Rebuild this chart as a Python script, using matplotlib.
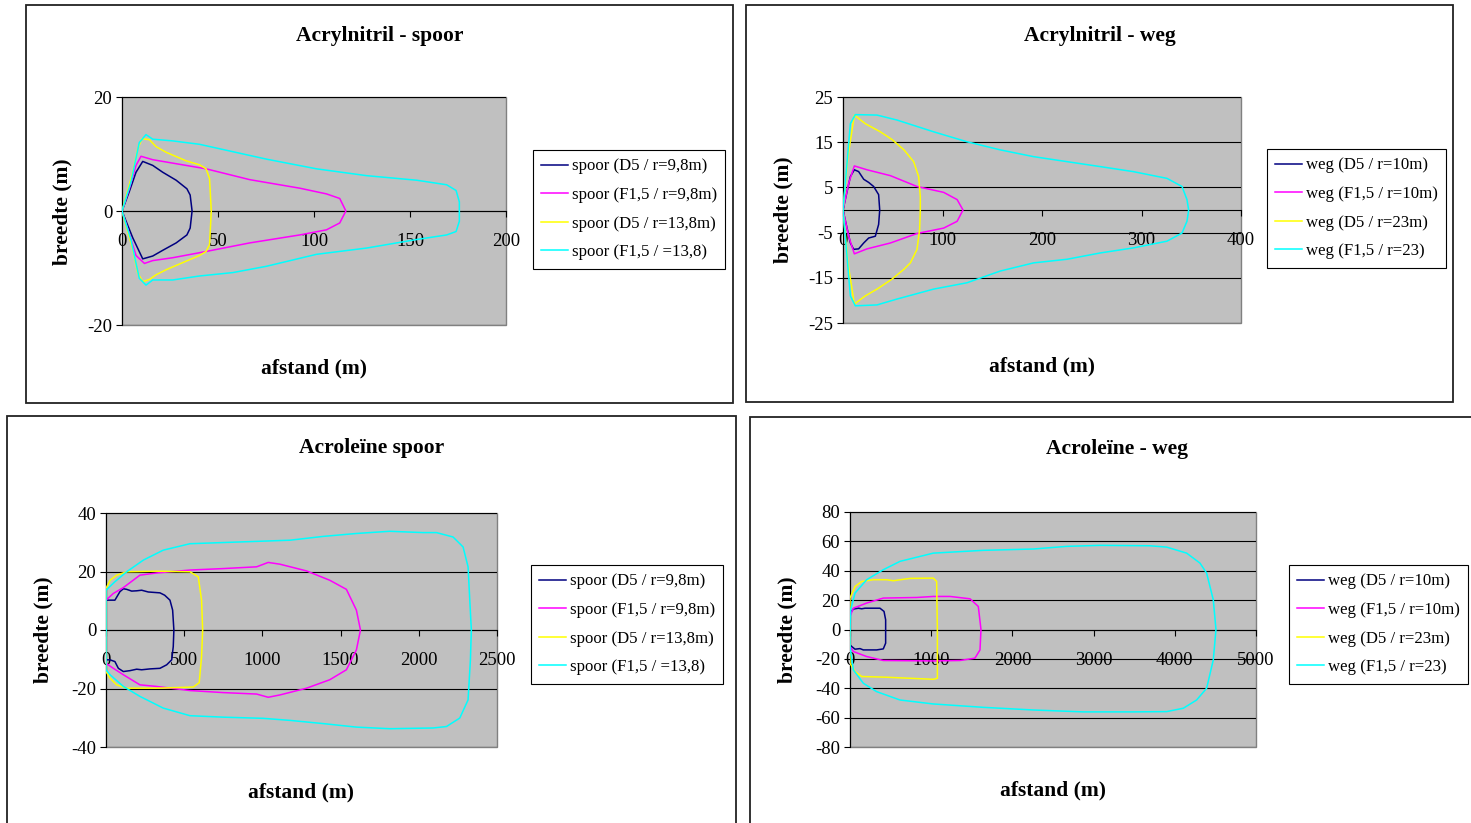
"""
Acrylnitril / Acroleïne contour plots (spoor & weg) - four Excel-style panels.
"""
import matplotlib
matplotlib.use("Agg")
import matplotlib.pyplot as plt
from matplotlib.patches import Rectangle

plt.rcParams["font.family"] = ["Liberation Serif", "DejaVu Serif"]
plt.rcParams["axes.unicode_minus"] = False

W, H = 1471, 823

# ── data (afstand x, breedte y) ──
# Acrylnitril - spoor
a_sp_d5_98_x = [0, 3.8, 7.3, 10.8, 16, 21.2, 28.2, 33.8, 35.5, 36.5, 35.5, 33.8, 28.2, 21.2, 16, 10.8, 5.6, 0]
a_sp_d5_98_y = [0, 3.4, 6.8, 8.7, 8.0, 6.8, 5.4, 3.9, 2.8, 0, -3.0, -4.2, -5.6, -6.9, -7.9, -8.4, -4.7, 0]
a_sp_f15_98_x = [0, 3.8, 7.3, 9.9, 16, 26.4, 43.8, 66.5, 92.6, 106.5, 113.4, 116.6,
                 113.4, 106.5, 92.6, 66.5, 43.8, 26.4, 16, 11.7, 7.3, 3.8, 0]
a_sp_f15_98_y = [0, 3.9, 8.0, 9.6, 9.0, 8.4, 7.4, 5.5, 4.0, 3.0, 2.2, 0,
                 -2.1, -3.3, -4.2, -5.6, -7.1, -8.2, -8.7, -9.2, -7.8, -4.0, 0]
a_sp_d5_138_x = [0, 5.6, 8.2, 10.4, 14.3, 17.7, 23, 33.4, 40.4, 43.8, 45.6, 46.5,
                 45.6, 43.8, 40.4, 33.4, 23, 17.7, 14.3, 10.8, 8.2, 5.6, 0]
a_sp_d5_138_y = [0, 6.8, 10.9, 12.7, 12.5, 11.3, 10.3, 8.8, 8.1, 7.4, 5.7, 0,
                 -5.9, -7.1, -7.8, -8.8, -10.3, -11.2, -12.0, -12.4, -10.9, -6.8, 0]
a_sp_f15_138_x = [0, 4.7, 9, 12.5, 16, 26.4, 40.4, 57.8, 75.2, 101.3, 127.4, 153.5, 169.1, 174, 175.7, 175.7,
                  175.7, 174, 169.1, 153.5, 127.4, 101.3, 75.2, 57.8, 40.4, 26.4, 16, 12.5, 9, 4.7, 0]
a_sp_f15_138_y = [0, 5.1, 12, 13.4, 12.6, 12.3, 11.7, 10.4, 9.1, 7.4, 6.2, 5.4, 4.6, 3.6, 1.6, 0,
                  -1.8, -3.6, -4.2, -5.0, -6.5, -7.6, -9.7, -10.8, -11.4, -12.1, -12.1, -13.0, -11.8, -5.1, 0]

# Acrylnitril - weg
a_wg_d5_10_x = [0, 7.4, 11.4, 15.7, 20.8, 25.8, 30.8, 35.8, 36.9, 35.8, 32.5, 25.8, 20.8, 15.7, 10.7, 7.4, 0]
a_wg_d5_10_y = [0, 7.4, 8.9, 8.5, 6.8, 6.1, 5.2, 3.4, 0, -3.2, -5.8, -6.2, -7.3, -8.6, -8.7, -7.3, 0]
a_wg_f15_10_x = [0, 5.7, 11.4, 24.1, 47.6, 74.4, 101.2, 114.7, 120.6, 114.7, 101.2, 74.4, 47.6, 24.1, 11.4, 5.7, 0]
a_wg_f15_10_y = [0, 5.9, 9.75, 8.9, 7.6, 5.2, 3.9, 2.3, 0, -2.5, -4.0, -5.2, -7.3, -8.6, -9.7, -5.8, 0]
a_wg_d5_23_x = [0, 5, 11.4, 22.4, 37.5, 49.2, 61.3, 71, 76, 77.7, 77.7,
                77, 74.4, 67.7, 61.3, 49.2, 34.2, 22.4, 11.4, 5, 0]
a_wg_d5_23_y = [0, 11.8, 21.0, 19.1, 17.3, 15.6, 13.3, 10.7, 7.4, 3.0, 0,
                -4.3, -8.7, -11.7, -13.1, -15.3, -17.5, -19.0, -20.8, -11.8, 0]
a_wg_f15_23_x = [0, 4, 7.4, 12.4, 34.2, 54.3, 91.1, 124.6, 158.1, 191.6, 225.1, 258.6, 291.5, 325.6, 340.7, 345.7, 347.4,
                 345.7, 340.7, 325.6, 291.5, 258.6, 225.1, 191.6, 158.1, 124.6, 91.1, 54.3, 34.2, 12.4, 7.4, 4, 0]
a_wg_f15_23_y = [0, 10.3, 19.1, 21.1, 21.0, 19.9, 17.3, 15.1, 13.3, 11.8, 10.7, 9.6, 8.5, 7.0, 5.2, 2.3, 0,
                 -2.5, -5.1, -6.9, -8.4, -9.5, -10.9, -11.7, -13.5, -16.1, -17.5, -19.7, -21.0, -21.2, -19.0, -10.2, 0]

# Acroleïne spoor
r_sp_d5_98_x = [0, 0, 57, 89, 111, 132, 164, 196, 228, 270, 345, 375, 409, 426, 434,
                430, 420, 388, 345, 281, 228, 196, 153, 111, 79, 57, 26, 0, 0]
r_sp_d5_98_y = [0, 10.2, 10.2, 13.1, 14.1, 13.9, 13.3, 13.4, 13.6, 13.0, 12.7, 11.9, 10.2, 6.8, 0,
                -5.7, -10.2, -11.9, -13.1, -13.3, -13.6, -13.4, -13.9, -14.2, -13.1, -10.8, -10.2, -10.2, 0]
r_sp_f15_98_x = [0, 0, 47, 111, 217, 324, 537, 750, 963, 1037, 1112, 1282, 1431, 1537, 1601, 1627,
                 1601, 1537, 1431, 1282, 1112, 1037, 963, 750, 537, 324, 217, 111, 47, 0, 0]
r_sp_f15_98_y = [0, 10.2, 12.5, 14.5, 18.75, 19.5, 20.5, 21.0, 21.6, 23.1, 22.5, 20.2, 17.0, 13.9, 6.8, 0,
                 -6.8, -13.6, -17.0, -19.9, -22.2, -23.0, -21.9, -21.4, -20.7, -19.3, -18.75, -15.3, -13.1, -11.4, 0]
r_sp_d5_138_x = [0, 0, 26, 68, 132, 324, 537, 590, 611, 618, 611, 596, 558, 324, 132, 68, 26, 0, 0]
r_sp_d5_138_y = [0, 14.2, 17, 18.75, 19.9, 20.1, 19.9, 18.2, 10.2, 0, -9.1, -18, -19.5, -19.9, -19.9, -18.75, -16.5, -14.2, 0]
r_sp_f15_138_x = [0, 0, 57, 132, 239, 366, 537, 856, 1176, 1389, 1601, 1814, 2027, 2113, 2219, 2283, 2315, 2326, 2336,
                  2330, 2315, 2262, 2177, 2091, 1814, 1601, 1389, 1176, 1005, 750, 537, 366, 217, 111, 26, 0, 0]
r_sp_f15_138_y = [0, 13.6, 16.5, 19.9, 23.9, 27.3, 29.5, 30.1, 30.7, 32, 33, 33.75, 33.3, 33.3, 31.8, 28.4, 21.6, 10.2, 0,
                  -10.2, -23.9, -30.1, -33, -33.5, -33.75, -33.2, -32, -30.9, -30.2, -29.8, -29.3, -26.7, -22.7, -19.3, -15.3, -13.6, 0]

# Acroleïne - weg
r_wg_d5_10_x = [0, 0, 41, 103, 144, 185, 369, 419, 439, 439, 439, 410, 328, 164, 123, 62, 21, 0, 0]
r_wg_d5_10_y = [0, 11.1, 13.9, 14.5, 14.1, 14.5, 14.5, 12.3, 6.6, 0, -9.3, -13.2, -13.9, -13.9, -13.0, -13.4, -11.6, -10.5, 0]
r_wg_f15_10_x = [0, 0, 41, 205, 410, 821, 1026, 1232, 1478, 1580, 1613, 1601, 1539, 1355, 1026, 410, 205, 41, 0, 0]
r_wg_f15_10_y = [0, 8.9, 14.5, 18, 21.4, 21.8, 22.5, 22.5, 20.9, 15.7, 0, -13.9, -19.5, -21.1, -21.4, -21.1, -18.4, -15, -11.6, 0]
r_wg_d5_23_x = [0, 0, 62, 144, 287, 451, 533, 739, 1026, 1067, 1076, 1076, 1026, 739, 533, 451, 144, 62, 0, 0]
r_wg_d5_23_y = [0, 21.4, 29.3, 32.7, 33.9, 33.9, 33.2, 34.8, 35, 32.7, 0, -33.2, -33.9, -33.2, -32.7, -32.5, -32, -28.6, -23, 0]
r_wg_f15_23_x = [0, 8, 62, 205, 410, 616, 1026, 1642, 2258, 2669, 3080, 3695, 3900, 4146, 4310, 4392, 4474, 4507,
                 4474, 4392, 4269, 4105, 3900, 3489, 2874, 2258, 1642, 1026, 616, 328, 164, 41, 0, 0]
r_wg_f15_23_y = [0, 13.4, 24.8, 33.9, 40.7, 46.4, 52, 53.9, 54.8, 56.6, 57.3, 57, 56.1, 52, 45.2, 38.4, 20.2, 0,
                 -20.7, -40, -48, -53.6, -55.9, -56.1, -56.1, -54.8, -53, -50.7, -48, -42.3, -36.6, -27.5, -11.6, 0]

spoor_labels = ["spoor (D5 / r=9,8m)", "spoor (F1,5 / r=9,8m)", "spoor (D5 / r=13,8m)", "spoor (F1,5 / =13,8)"]
weg_labels = ["weg (D5 / r=10m)", "weg (F1,5 / r=10m)", "weg (D5 / r=23m)", "weg (F1,5 / r=23)"]
colors = ["#000080", "#FF00FF", "#FFFF00", "#00FFFF"]

fig = plt.figure(figsize=(W / 100, H / 100), dpi=100)


def fx(px): return px / W
def fy(py): return 1 - py / H


# panel frames (pixel boxes)
for (x0, y0, x1, y1) in [(26, 5, 733, 403), (746, 5, 1453, 402), (7, 416, 736, 830), (750, 417, 1490, 830)]:
    fig.patches.append(Rectangle((fx(x0), fy(y1)), fx(x1 - x0), (y1 - y0) / H, transform=fig.transFigure,
                                 fill=False, edgecolor="#222222", lw=1.3))

panels = [
    dict(box=(122, 97, 506, 325), xlim=200, xt=[0, 50, 100, 150, 200], ylim=(-20, 20), yt=[-20, 0, 20],
         title="Acrylnitril - spoor", tpos=(380, 36), ylab=(62, 212), xlab=368,
         series=[(a_sp_d5_98_x, a_sp_d5_98_y), (a_sp_f15_98_x, a_sp_f15_98_y),
                 (a_sp_d5_138_x, a_sp_d5_138_y), (a_sp_f15_138_x, a_sp_f15_138_y)],
         labels=spoor_labels, leg=(533, 150)),
    dict(box=(843, 97, 1241, 323), xlim=400, xt=[0, 100, 200, 300, 400], ylim=(-25, 25),
         yt=[-25, -15, -5, 5, 15, 25],
         title="Acrylnitril - weg", tpos=(1100, 36), ylab=(783, 210), xlab=366,
         series=[(a_wg_d5_10_x, a_wg_d5_10_y), (a_wg_f15_10_x, a_wg_f15_10_y),
                 (a_wg_d5_23_x, a_wg_d5_23_y), (a_wg_f15_23_x, a_wg_f15_23_y)],
         labels=weg_labels, leg=(1267, 149)),
    dict(box=(106, 513, 497, 747), xlim=2500, xt=[0, 500, 1000, 1500, 2000, 2500], ylim=(-40, 40),
         yt=[-40, -20, 0, 20, 40],
         title="Acroleïne spoor", tpos=(372, 448), ylab=(43, 630), xlab=792,
         series=[(r_sp_d5_98_x, r_sp_d5_98_y), (r_sp_f15_98_x, r_sp_f15_98_y),
                 (r_sp_d5_138_x, r_sp_d5_138_y), (r_sp_f15_138_x, r_sp_f15_138_y)],
         labels=spoor_labels, leg=(531, 565)),
    dict(box=(850, 512, 1256, 747), xlim=5000, xt=[0, 1000, 2000, 3000, 4000, 5000], ylim=(-80, 80),
         yt=[-80, -60, -40, -20, 0, 20, 40, 60, 80],
         title="Acroleïne - weg", tpos=(1117, 449), ylab=(787, 630), xlab=790,
         series=[(r_wg_d5_10_x, r_wg_d5_10_y), (r_wg_f15_10_x, r_wg_f15_10_y),
                 (r_wg_d5_23_x, r_wg_d5_23_y), (r_wg_f15_23_x, r_wg_f15_23_y)],
         labels=weg_labels, leg=(1289, 565)),
]

for p in panels:
    x0, y0, x1, y1 = p["box"]
    ax = fig.add_axes([fx(x0), fy(y1), (x1 - x0) / W, (y1 - y0) / H])
    ax.set_facecolor("#C0C0C0")
    ax.patch.set_edgecolor("#808080")
    ax.patch.set_linewidth(1.0)
    handles = []
    for (xs, ys), c, lab in zip(p["series"], colors, p["labels"]):
        h, = ax.plot(xs, ys, color=c, lw=1.1, label=lab, zorder=3)
        handles.append(h)
    ax.set_xlim(0, p["xlim"])
    ax.set_ylim(*p["ylim"])
    ax.set_xticks(p["xt"])
    ax.set_yticks(p["yt"])
    ax.yaxis.grid(True, color="black", lw=0.8)
    ax.set_axisbelow(True)
    for s in ["top", "right"]:
        ax.spines[s].set_visible(False)
    ax.spines["bottom"].set_position(("data", 0))
    ax.spines["bottom"].set_zorder(2)
    ax.spines["left"].set_color("black")
    ax.tick_params(axis="both", direction="out", length=4, width=0.8, labelsize=13.5, color="black")
    ax.tick_params(axis="x", pad=12)
    ax.tick_params(axis="y", pad=3)

    fig.text(fx(p["tpos"][0]), fy(p["tpos"][1]), p["title"], ha="center", va="center",
             fontsize=15.5, fontweight="bold")
    fig.text(fx((x0 + x1) / 2), fy(p["xlab"]), "afstand (m)", ha="center", va="center",
             fontsize=15.5, fontweight="bold")
    fig.text(fx(p["ylab"][0]), fy(p["ylab"][1]), "breedte (m)", ha="center", va="center",
             rotation=90, fontsize=15.5, fontweight="bold")

    lx, ly = p["leg"]
    leg = ax.legend(handles=handles, loc="upper left", bbox_to_anchor=(fx(lx), fy(ly)),
                    bbox_transform=fig.transFigure, borderaxespad=0, fontsize=12.1,
                    handlelength=1.6, handletextpad=0.2, labelspacing=0.75, borderpad=0.5,
                    fancybox=False, framealpha=1, edgecolor="black")
    leg.get_frame().set_linewidth(0.8)

fig.savefig("out.png", dpi=100)
